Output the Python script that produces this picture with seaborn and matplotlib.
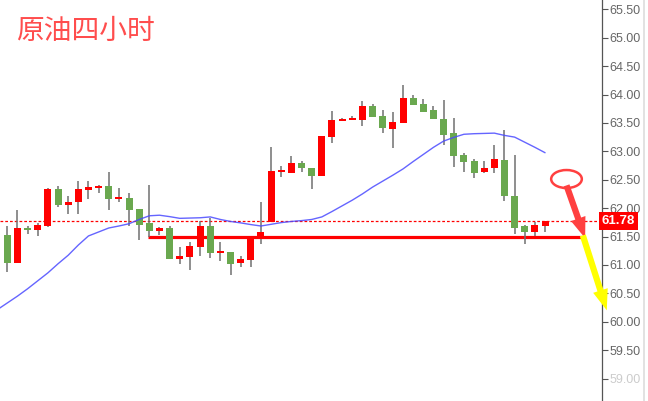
import numpy as np
import pandas as pd
import matplotlib
matplotlib.use("Agg")
import matplotlib.pyplot as plt
import matplotlib.transforms as mtransforms
from matplotlib.patches import Ellipse
import seaborn as sns

# ---------------- data ----------------
opens = [61.53, 61.04, 61.655, 61.615, 61.685, 62.335, 62.06, 62.11, 62.325, 62.355,
         62.39, 62.165, 62.18, 61.985, 61.74, 61.60, 61.65, 61.10, 61.14, 61.315,
         61.69, 61.21, 61.23, 61.04, 61.086, 61.46, 61.76, 62.635, 62.62, 62.79,
         62.705, 62.565, 63.25, 63.53, 63.55, 63.55, 63.80, 63.62, 63.39, 63.50,
         63.94, 63.83, 63.727, 63.57, 63.32, 62.935, 62.83, 62.64, 62.71, 62.85,
         62.21, 61.685, 61.585, 61.69]
highs = [61.69, 61.97, 61.69, 61.74, 62.36, 62.39, 62.22, 62.48, 62.48, 62.41,
         62.635, 62.36, 62.27, 61.99, 62.41, 61.67, 61.69, 61.315, 61.40, 61.78,
         61.83, 61.40, 61.23, 61.157, 61.50, 62.11, 63.076, 62.74, 62.92, 62.83,
         62.705, 63.27, 63.71, 63.59, 63.62, 63.885, 63.83, 63.727, 63.69, 64.17,
         63.99, 63.92, 63.80, 63.90, 63.59, 62.97, 62.865, 62.83, 63.11, 63.375,
         62.935, 61.71, 61.755, 61.78]
lows = [60.88, 61.04, 61.55, 61.51, 61.67, 62.025, 61.90, 61.90, 62.165, 62.27,
        61.97, 62.11, 61.69, 61.44, 61.50, 61.53, 61.10, 61.02, 60.91, 61.16,
        61.13, 61.075, 60.83, 60.97, 60.97, 61.37, 61.76, 62.55, 62.62, 62.635,
        62.336, 62.565, 63.15, 63.53, 63.55, 63.45, 63.60, 63.33, 63.06, 63.49,
        63.815, 63.69, 63.57, 63.11, 62.73, 62.64, 62.535, 62.62, 62.62, 62.13,
        61.55, 61.37, 61.51, 61.585]
closes = [61.03, 61.655, 61.615, 61.71, 62.34, 62.06, 62.11, 62.335, 62.38, 62.38,
          62.165, 62.20, 61.97, 61.71, 61.60, 61.65, 61.10, 61.157, 61.33, 61.69,
          61.215, 61.23, 61.02, 61.10, 61.50, 61.58, 62.65, 62.65, 62.79, 62.71,
          62.565, 63.27, 63.55, 63.57, 63.575, 63.80, 63.60, 63.415, 63.515, 63.94,
          63.815, 63.69, 63.57, 63.29, 62.92, 62.82, 62.62, 62.705, 62.865, 62.22,
          61.655, 61.585, 61.71, 61.78]
# moving average, starting one bar before the first candle
ma_values = [60.21, 60.33, 60.45, 60.58, 60.72, 60.86, 61.02, 61.17, 61.35, 61.51,
             61.58, 61.65, 61.685, 61.725, 61.80, 61.865, 61.875, 61.85, 61.82, 61.825,
             61.83, 61.845, 61.80, 61.765, 61.74, 61.71, 61.685, 61.715, 61.745, 61.765,
             61.78, 61.80, 61.845, 61.94, 62.04, 62.14, 62.25, 62.37, 62.475, 62.58,
             62.69, 62.82, 62.945, 63.07, 63.18, 63.245, 63.30, 63.31, 63.315, 63.32,
             63.28, 63.25, 63.16, 63.07, 62.975]
last_price = 61.78
support = 61.50
y_ticks = [59.00, 59.50, 60.00, 60.50, 61.00, 61.50, 62.00, 62.50, 63.00,
           63.50, 64.00, 64.50, 65.00, 65.50]
title = "原油四小时"

# ---------------- figure ----------------
sns.set_style("white")
plt.rcParams["font.family"] = ["Liberation Sans", "DejaVu Sans"]

fig = plt.figure(figsize=(6.48, 4.01), dpi=100)
ax = fig.add_axes([0, 0, 601.5 / 648, 1])

n = len(opens)
idx = np.arange(n)
df = pd.DataFrame({"i": idx, "open": opens, "high": highs, "low": lows, "close": closes})
df["up"] = df["close"] >= df["open"]
df["bottom"] = df[["open", "close"]].min(axis=1)
df["height"] = (df["close"] - df["open"]).abs().clip(lower=0.035)

RED = "#ff0000"
GREEN = "#6aa84f"
colors = [RED if u else GREEN for u in df["up"]]

# support line (under candles)
ax.hlines(support, 13.89, 56.75, color=RED, lw=2.3, zorder=1)
# last price dotted line
ax.axhline(last_price, color=RED, lw=0.9, ls=(0, (2.2, 1.6)), zorder=1)

# wicks
ax.vlines(df["i"], df["low"], df["high"], color="#707070", lw=1.1, zorder=2)
# bodies
ax.bar(df["i"], df["height"], bottom=df["bottom"], width=0.69, color=colors,
       edgecolor="none", zorder=3)

# moving average
ma_df = pd.DataFrame({"i": np.arange(-1, -1 + len(ma_values)), "ma": ma_values})
sns.lineplot(data=ma_df, x="i", y="ma", ax=ax, color="#4a4aff", lw=1.0, alpha=0.85,
             zorder=4, legend=False)

# annotations: ellipse + arrows
ax.add_patch(Ellipse((55.11, 62.512), 3.02, 0.317, fill=False, ec="#ff4040",
                     lw=1.8, zorder=6))
arrow_style = "simple,head_length=1.5,head_width=1.1,tail_width=0.45"
ax.annotate("", xy=(56.95, 61.47), xytext=(55.11, 62.40),
            arrowprops=dict(arrowstyle=arrow_style,
                            fc="#ff4040", ec="none", shrinkA=0, shrinkB=0,
                            mutation_scale=10),
            annotation_clip=False, zorder=6)
ax.annotate("", xy=(59.08, 60.20), xytext=(56.72, 61.52),
            arrowprops=dict(arrowstyle=arrow_style,
                            fc="#ffff00", ec="none", shrinkA=0, shrinkB=0,
                            mutation_scale=10),
            annotation_clip=False, zorder=7)

# axes styling
ax.set_xlim(-0.719, 58.56)
ax.set_ylim(58.604, 65.664)
ax.set_xticks([])
ax.set_xlabel("")
ax.set_ylabel("")
for s in ["top", "left", "bottom"]:
    ax.spines[s].set_visible(False)
ax.spines["right"].set_visible(True)
ax.spines["right"].set_color("#555555")
ax.spines["right"].set_linewidth(0.9)
ax.yaxis.tick_right()
ax.set_yticks(y_ticks)
ax.set_yticklabels([f"{v:.2f}" for v in y_ticks])
ax.tick_params(axis="y", which="both", direction="out", length=4, width=0.8,
               color="#555555", labelcolor="#666666", labelsize=9, pad=2)
ax.get_yticklabels()[0].set_color("#cccccc")

# last price box
trans = mtransforms.blended_transform_factory(ax.transAxes, ax.transData)
ax.text(1.0, last_price, "61.78", transform=trans, ha="left", va="center",
        fontsize=9.5, fontweight="bold", color="white", clip_on=False, zorder=8,
        bbox=dict(boxstyle="square,pad=0.22", fc=RED, ec="none"))

# right gray strip
fig.add_artist(plt.Line2D([643.5 / 648, 643.5 / 648], [0, 1], color="#dddddd", lw=1.2,
                          transform=fig.transFigure))

# title
fig.text(16 / 648, 1 - 31 / 401, title, fontsize=20, color="#ff4d4d", va="center",
         ha="left", family=["Noto Sans CJK SC", "DejaVu Sans"])

fig.savefig("out.png", dpi=100)
